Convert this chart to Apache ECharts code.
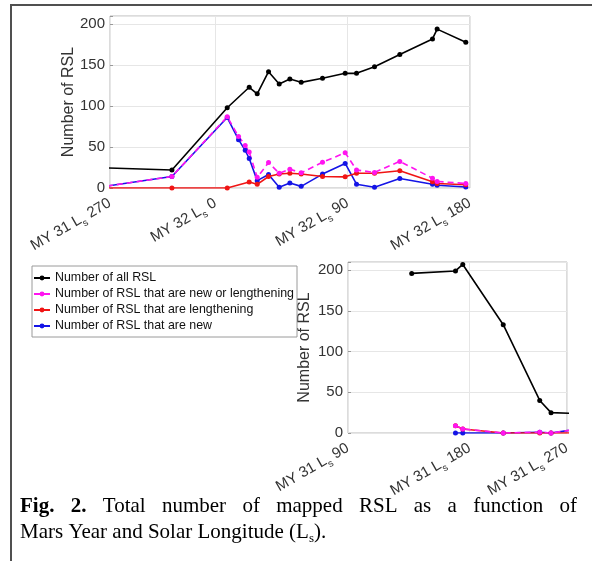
<!DOCTYPE html>
<html><head><meta charset="utf-8">
<script src="https://cdn.jsdelivr.net/npm/echarts@6/dist/echarts.min.js"></script>
<style>html,body{margin:0;padding:0;background:#fff}#c{width:592px;height:561px}</style>
</head><body><div id="c"></div>
<script>
// ---- data (x = Earth days after MY 31 Ls 90) ----
const allDays = [96,162,173,234,289,306,423,506,539,551,568,584,600,617,649,683,700,727,765,814,821,864];
const allVals = [196,199,207,133,40,25,22,98,123,115,142,127,133,129,134,140,140,148,163,182,194,178];
const newOrLenDays = [162,173,234,289,306,423,506,523,533,539,551,568,584,600,617,649,683,700,727,765,814,821,864];
const newOrLenVals = [9,5,0,1,0,14,87,63,52,44,13,31,18,23,18.5,31.5,43,22,19,32.5,12,8,5.5];
const lenDays = [162,173,234,289,306,423,506,539,551,568,584,600,617,649,683,700,727,765,814,821,864];
const lenVals = [9,5,0,0,0,0,0,7.4,4.5,14,17,18,17,14,13.6,18,18,21,7.5,5.5,4];
const newDays = [162,173,234,289,306,423,506,523,533,539,551,568,584,600,617,649,683,700,727,765,814,821,864];
const newVals = [0,0,0,1,0,14,86,59,46,36,9,16.5,1,6,2,17,30,4.6,1,11.6,4.6,3.3,1.2];

const topTickDays = [330.1, 488.2, 686.8, 870.3];
const topTickLabels = ['MY 31 L_s 270', 'MY 32 L_s 0', 'MY 32 L_s 90', 'MY 32 L_s 180'];
const botTickDays = [0, 183.5, 330.1];
const botTickLabels = ['MY 31 L_s 90', 'MY 31 L_s 180', 'MY 31 L_s 270'];
const yTicks = [0, 50, 100, 150, 200];
const yName = 'Number of RSL';

const nameAll = 'Number of all RSL';
const nameNewOrLen = 'Number of RSL that are new or lengthening';
const nameLen = 'Number of RSL that are lengthening';
const nameNew = 'Number of RSL that are new';

const captionLine1 = [['Fig.', true], ['2.', true], ['Total', false], ['number', false], ['of', false], ['mapped', false], ['RSL', false], ['as', false], ['a', false], ['function', false], ['of', false]];
const captionLine2a = 'Mars Year and Solar Longitude (L';
const captionLine2sub = 's';
const captionLine2b = ').';

// ---- build ----
const sans = '"Liberation Sans", Arial, Helvetica, sans-serif';
const serif = '"Liberation Serif", "Times New Roman", serif';
const axisColor = '#333';

function pairs(xs, ys) { return xs.map((x, i) => [x, ys[i]]); }
function tickLabel(days, labels) {
  return function (v) {
    let idx = days.findIndex(d => Math.abs(d - v) < 0.5);
    if (idx < 0) return '';
    const p = labels[idx].split('_s');
    return '{t|' + p[0] + '}{s|s}{t|' + p[1] + '}';
  };
}
const xRich = {
  t: { fontSize: 15, lineHeight: 18, color: axisColor, fontFamily: sans },
  s: { fontSize: 10, lineHeight: 12, padding: [10, 0, 0, 0], verticalAlign: 'top', color: axisColor, fontFamily: sans }
};

function xAxis(gi, days, labels, min, max) {
  return {
    type: 'value', gridIndex: gi, min: min, max: max,
    axisLine: { show: false },
    axisTick: { show: false, customValues: days },
    splitLine: { show: true, lineStyle: { color: '#e6e6e6', width: 1 } },
    axisLabel: { customValues: days, rotate: 30, margin: 14, formatter: tickLabel(days, labels), rich: xRich }
  };
}
function yAxis(gi, gapName) {
  return {
    type: 'value', gridIndex: gi, min: 0, max: 210, interval: 50,
    name: yName, nameLocation: 'middle', nameGap: gapName, nameMoveOverlap: false,
    nameTextStyle: { fontSize: 16, color: axisColor, fontFamily: sans },
    axisLine: { show: false },
    axisTick: { show: true, inside: true, length: 3, lineStyle: { color: '#999' } },
    splitLine: { show: true, lineStyle: { color: '#e6e6e6', width: 1 } },
    axisLabel: { fontSize: 15, color: axisColor, fontFamily: sans, margin: 5,
      formatter: v => (yTicks.indexOf(v) >= 0 ? String(v) : '') }
  };
}

const series = [];
[0, 1].forEach(gi => {
  const common = { xAxisIndex: gi, yAxisIndex: gi, type: 'line', symbol: 'circle', symbolSize: 5, clip: true, animation: false };
  series.push(Object.assign({}, common, { name: nameNew, data: pairs(newDays, newVals),
    itemStyle: { color: '#1414e6' }, lineStyle: { color: '#1414e6', width: 1.6 } }));
  series.push(Object.assign({}, common, { name: nameLen, data: pairs(lenDays, lenVals),
    itemStyle: { color: '#f01414' }, lineStyle: { color: '#f01414', width: 1.6 } }));
  series.push(Object.assign({}, common, { name: nameNewOrLen, data: pairs(newOrLenDays, newOrLenVals),
    itemStyle: { color: '#ff14f0' }, lineStyle: { color: '#ff14f0', width: 1.6, type: [6, 4] } }));
  series.push(Object.assign({}, common, { name: nameAll, data: pairs(allDays, allVals),
    itemStyle: { color: '#000' }, lineStyle: { color: '#000', width: 1.6 } }));
});

// caption (justified first line)
const ctx = document.createElement('canvas').getContext('2d');
const capSize = 21;
function measure(t, bold) { ctx.font = (bold ? 'bold ' : '') + capSize + 'px ' + serif; return ctx.measureText(t).width; }
const capLeft = 20, capRight = 577;
let wordsW = 0;
captionLine1.forEach(w => { wordsW += measure(w[0], w[1]); });
const gap = (capRight - capLeft - wordsW) / (captionLine1.length - 1);
const line1Text = captionLine1.map(w => '{' + (w[1] ? 'b' : 'n') + '|' + w[0] + '}').join('{g| }');
const line2Text = '{n|' + captionLine2a + '}{sub|' + captionLine2sub + '}{n|' + captionLine2b + '}';
const capRich = {
  b: { fontSize: capSize, fontWeight: 'bold', fontFamily: serif, color: '#000', lineHeight: 24 },
  n: { fontSize: capSize, fontFamily: serif, color: '#000', lineHeight: 24 },
  g: { width: gap, fontSize: capSize, lineHeight: 24 },
  sub: { fontSize: 13, fontFamily: serif, color: '#000', lineHeight: 14, padding: [12, 0, 0, 0], verticalAlign: 'top' }
};

const option = {
  animation: false,
  backgroundColor: '#fff',
  grid: [
    { left: 110, top: 16, width: 360, height: 172, show: true, borderColor: '#b8b8b8', borderWidth: 1, backgroundColor: 'transparent' },
    { left: 348, top: 262, width: 219, height: 171, show: true, borderColor: '#b8b8b8', borderWidth: 1, backgroundColor: 'transparent' }
  ],
  xAxis: [xAxis(0, topTickDays, topTickLabels, 330.1, 870.3), xAxis(1, botTickDays, botTickLabels, 0, 330.1)],
  yAxis: [yAxis(0, 33), yAxis(1, 35)],
  legend: {
    orient: 'vertical', left: 32, top: 266,
    data: [nameAll, nameNewOrLen, nameLen, nameNew],
    itemWidth: 16, itemHeight: 6, itemGap: 2,
    padding: [5, 3, 4, 1],
    borderColor: '#9a9a9a', borderWidth: 1, backgroundColor: '#fff',
    textStyle: { fontSize: 12.4, lineHeight: 14, color: '#111', fontFamily: sans }
  },
  series: series,
  graphic: [
    { type: 'line', shape: { x1: 10, y1: 5, x2: 592, y2: 5 }, style: { stroke: '#505050', lineWidth: 2 } },
    { type: 'line', shape: { x1: 11, y1: 4, x2: 11, y2: 561 }, style: { stroke: '#505050', lineWidth: 2 } },
    { type: 'text', left: capLeft, top: 496, style: { text: line1Text, rich: capRich } },
    { type: 'text', left: capLeft, top: 520, style: { text: line2Text, rich: capRich } }
  ]
};
const chart = echarts.init(document.getElementById('c'), null, { renderer: 'canvas' });
chart.setOption(option);
</script></body></html>
